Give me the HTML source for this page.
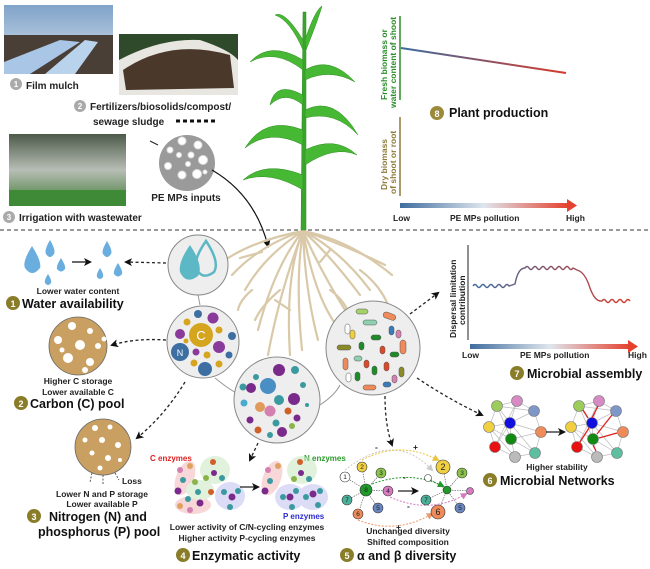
<!DOCTYPE html>
<html><head><meta charset="utf-8"><style>
html,body{margin:0;padding:0;background:#fff}
svg{display:block}
text{font-family:"Liberation Sans",Arial,sans-serif}
.h{font-weight:bold;font-size:12.5px;fill:#111}
.s{font-weight:bold;font-size:8.5px;fill:#222}
.m{font-weight:bold;font-size:10px;fill:#222}
.root{fill:none;stroke:#d9c9a8;stroke-width:2.2;stroke-linecap:round}
.dash{fill:none;stroke:#222;stroke-width:1.3;stroke-dasharray:3,2.5}
</style></head><body>
<svg width="650" height="569" viewBox="0 0 650 569" xmlns="http://www.w3.org/2000/svg">
<defs>
<linearGradient id="g1" x1="0" x2="1"><stop offset="0" stop-color="#3f6d9e"/><stop offset="0.5" stop-color="#dfe6ee"/><stop offset="1" stop-color="#e4412e"/></linearGradient>
<linearGradient id="g2" x1="0" x2="1"><stop offset="0" stop-color="#3c6ca2"/><stop offset="1" stop-color="#d83a2a"/></linearGradient>
<linearGradient id="sky" x1="0" y1="0" x2="0" y2="1"><stop offset="0" stop-color="#7fa3c9"/><stop offset="1" stop-color="#dfe7ee"/></linearGradient>
<linearGradient id="spr" x1="0" y1="0" x2="0" y2="1"><stop offset="0" stop-color="#4d5a4a"/><stop offset="0.5" stop-color="#b8beb6"/><stop offset="1" stop-color="#3e7a34"/></linearGradient>
<marker id="ah" markerWidth="8" markerHeight="8" refX="6" refY="4" orient="auto" markerUnits="userSpaceOnUse"><path d="M0,0 L8,4 L0,8 L2,4z" fill="#111"/></marker>
<marker id="ahy" markerWidth="7" markerHeight="7" refX="5" refY="3.5" orient="auto" markerUnits="userSpaceOnUse"><path d="M0,0 L7,3.5 L0,7z" fill="#e8c43a"/></marker>
<marker id="ahg" markerWidth="7" markerHeight="7" refX="5" refY="3.5" orient="auto" markerUnits="userSpaceOnUse"><path d="M0,0 L7,3.5 L0,7z" fill="#1f9a2a"/></marker>
<marker id="ahp" markerWidth="7" markerHeight="7" refX="5" refY="3.5" orient="auto" markerUnits="userSpaceOnUse"><path d="M0,0 L7,3.5 L0,7z" fill="#d47ac0"/></marker>
<marker id="aho" markerWidth="7" markerHeight="7" refX="5" refY="3.5" orient="auto" markerUnits="userSpaceOnUse"><path d="M0,0 L7,3.5 L0,7z" fill="#ee9a6a"/></marker>
<marker id="ahgr" markerWidth="7" markerHeight="7" refX="5" refY="3.5" orient="auto" markerUnits="userSpaceOnUse"><path d="M0,0 L7,3.5 L0,7z" fill="#ccc"/></marker>
</defs>

<!-- photos -->
<rect x="4" y="5" width="109" height="69" fill="url(#sky)"/>
<rect x="4" y="35" width="109" height="39" fill="#4a3f36"/>
<path d="M4,62 L60,40 L80,42 L30,74 L4,74Z" fill="#a9c6e6"/>
<path d="M45,74 L85,40 L98,42 L75,74Z" fill="#b9d3ec"/>
<rect x="119" y="34" width="119" height="61" fill="#2e4a2a"/>
<path d="M119,60 Q160,38 200,40 Q230,50 238,60 L238,95 L119,95Z" fill="#e8e6e0"/>
<path d="M123,70 Q170,38 230,55 L234,88 L126,90Z" fill="#4a382b"/>
<rect x="9" y="134" width="117" height="72" fill="url(#spr)"/>
<rect x="9" y="190" width="117" height="16" fill="#3f8a36"/>

<!-- top labels -->
<circle cx="16" cy="84" r="6" fill="#aaa"/><text x="16" y="87" font-size="8" fill="#fff" text-anchor="middle" font-weight="bold">1</text>
<text x="26" y="89" class="m" font-size="11">Film mulch</text>
<circle cx="80" cy="106" r="6" fill="#aaa"/><text x="80" y="109" font-size="8" fill="#fff" text-anchor="middle" font-weight="bold">2</text>
<text x="90" y="110" class="m" font-size="10.5">Fertilizers/biosolids/compost/</text>
<text x="93" y="125" class="m" font-size="10.5">sewage sludge</text>
<path d="M176,121 L218,121" stroke="#111" stroke-width="3" stroke-dasharray="4,3"/>
<circle cx="9" cy="217" r="6" fill="#aaa"/><text x="9" y="220" font-size="8" fill="#fff" text-anchor="middle" font-weight="bold">3</text>
<text x="19" y="221" class="m" font-size="10.5">Irrigation with wastewater</text>

<!-- PE MPs circle -->
<line x1="150" y1="141" x2="158" y2="145" stroke="#222" stroke-width="1"/>
<circle cx="187" cy="163" r="28" fill="#9a9a9a"/>
<g fill="#fff" stroke="#ddd" stroke-width="1">
<circle cx="182" cy="141" r="4"/><circle cx="198" cy="145" r="4"/><circle cx="170" cy="150" r="3"/><circle cx="179" cy="155" r="2.5"/><circle cx="191" cy="155" r="3"/><circle cx="203" cy="160" r="4.5"/><circle cx="168" cy="166" r="3.5"/><circle cx="188" cy="164" r="2.5"/><circle cx="182" cy="175" r="4"/><circle cx="197" cy="174" r="4.5"/><circle cx="205" cy="172" r="2"/></g>
<text x="186" y="201" class="m" font-size="10.5" text-anchor="middle">PE MPs inputs</text>
<path d="M212,170 Q255,195 268,246" fill="none" stroke="#111" stroke-width="1.2" marker-end="url(#ah)"/>

<line x1="0" y1="230" x2="650" y2="230" stroke="#333" stroke-width="1" stroke-dasharray="4,3"/>

<!-- roots -->
<g class="root">
<path d="M303,231 Q260,245 232,275"/><path d="M303,231 Q265,255 245,290"/><path d="M303,231 Q275,265 258,330"/>
<path d="M303,231 Q285,275 290,355"/><path d="M303,231 Q295,280 302,350"/><path d="M303,231 Q305,290 318,340"/>
<path d="M303,231 Q320,270 345,310"/><path d="M303,231 Q330,255 360,295"/><path d="M303,231 Q345,245 385,265"/>
<path d="M303,231 Q350,240 392,275"/><path d="M303,231 Q340,250 370,290"/><path d="M303,231 Q255,240 225,260"/>
<path d="M303,231 Q280,290 268,355"/><path d="M303,231 Q315,300 340,330"/>
<path d="M252,290 Q240,300 238,310"/><path d="M280,290 Q262,305 255,320"/><path d="M330,290 Q345,300 352,320"/><path d="M360,270 Q380,285 388,305"/>
<path d="M240,258 L262,252"/><path d="M275,300 L290,310"/><path d="M320,262 L330,250"/>
</g>
<!-- plant -->
<g fill="#47b833" stroke="#2f8d25" stroke-width="0.5">
<path d="M301,230 L303,12 L306,12 L306,230Z" fill="#3aa52c"/>
<path d="M303,60 Q270,40 250,62 Q275,48 303,70Z"/>
<path d="M303,95 Q275,80 270,105 Q285,90 303,105Z"/>
<path d="M303,130 Q265,115 245,148 Q270,128 303,145Z"/>
<path d="M303,175 Q265,160 243,180 Q270,170 303,190Z"/>
<path d="M305,70 Q330,55 355,82 Q330,68 305,80Z"/>
<path d="M305,110 Q335,95 358,135 Q335,110 305,118Z"/>
<path d="M305,150 Q335,135 357,155 Q335,145 305,165Z"/>
<path d="M303,40 Q285,10 275,15 Q290,20 303,50Z"/>
<path d="M305,40 Q315,10 322,6 Q318,20 306,50Z"/>
</g>

<!-- plant production chart -->
<line x1="400" y1="16" x2="400" y2="100" stroke="#2a8d2a" stroke-width="1.5"/>
<line x1="400" y1="117" x2="400" y2="196" stroke="#8e7b3a" stroke-width="1.5"/>
<text transform="translate(387,100) rotate(-90)" font-size="8.5" font-weight="bold" fill="#2a8d2a">Fresh biomass or</text>
<text transform="translate(396,108) rotate(-90)" font-size="8.5" font-weight="bold" fill="#2a8d2a">water content of shoot</text>
<text transform="translate(387,190) rotate(-90)" font-size="8.5" font-weight="bold" fill="#8e7b3a">Dry biomass</text>
<text transform="translate(396,194) rotate(-90)" font-size="8.5" font-weight="bold" fill="#8e7b3a">of shoot or root</text>
<line x1="401" y1="48" x2="566" y2="73" stroke="url(#g2)" stroke-width="2"/>
<line x1="401" y1="157" x2="566" y2="157" stroke="url(#g2)" stroke-width="2"/>
<circle cx="437" cy="113" r="7" fill="#9a8a3a"/><text x="437" y="117" font-size="9" fill="#fff" text-anchor="middle" font-weight="bold">8</text>
<text x="449" y="117" class="h" font-size="12">Plant production</text>
<rect x="400" y="203" width="168" height="5" fill="url(#g1)"/><path d="M567,199 L577,205.5 L567,212Z" fill="#e4412e"/>
<text x="393" y="221" class="s">Low</text><text x="450" y="221" class="s">PE MPs pollution</text><text x="566" y="221" class="s">High</text>

<!-- water availability -->
<g fill="#6aaee0">
<path d="M32,246 Q22,262 25,268 Q32,278 40,268 Q42,262 32,246Z"/>
<path d="M50,240 Q44,250 46,254 Q50,260 54,254 Q56,250 50,240Z"/>
<path d="M61,258 Q56,266 57,269 Q61,274 65,269 Q66,266 61,258Z"/>
<path d="M48,274 Q44,280 45,283 Q48,287 51,283 Q52,280 48,274Z"/>
<path d="M107,241 Q101,251 103,254 Q107,260 111,254 Q113,251 107,241Z"/>
<path d="M100,268 Q96,274 97,277 Q100,281 103,277 Q104,274 100,268Z"/>
<path d="M118,263 Q113,271 114,274 Q118,279 122,274 Q123,271 118,263Z"/>
</g>
<line x1="72" y1="262" x2="90" y2="262" stroke="#111" stroke-width="1.2" marker-end="url(#ah)"/>
<path class="dash" d="M166,263 L126,262" marker-end="url(#ah)"/>
<text x="78" y="294" class="s" text-anchor="middle">Lower water content</text>
<circle cx="13" cy="303" r="7" fill="#8a7d2a"/><text x="13" y="307" font-size="9" fill="#fff" text-anchor="middle" font-weight="bold">1</text>
<text x="22" y="308" class="h">Water availability</text>

<path d="M198,295 L200,305 M215,378 Q230,390 235,392 M320,405 Q335,395 340,385" fill="none" stroke="#999" stroke-width="1"/>
<circle cx="198" cy="265" r="30" fill="#eee" stroke="#888" stroke-width="1"/>
<path d="M190,245 Q178,262 180,272 Q186,285 198,276 Q204,266 190,245Z" fill="#5cb8c4"/>
<path d="M206,241 Q194,258 196,268 Q202,281 214,272 Q220,262 206,241Z" fill="none" stroke="#5cb8c4" stroke-width="2.5"/>

<circle cx="203" cy="342" r="36" fill="#eee" stroke="#888" stroke-width="1"/>
<circle cx="201" cy="335" r="12" fill="#d6a520"/><text x="201" y="340" font-size="13" fill="#fff" text-anchor="middle">C</text>
<circle cx="180" cy="352" r="9" fill="#3d6fa3"/><text x="180" y="356" font-size="9" fill="#fff" text-anchor="middle">N</text>
<circle cx="205" cy="369" r="7" fill="#3d6fa3"/><circle cx="198" cy="314" r="4" fill="#3d6fa3"/><circle cx="232" cy="336" r="4" fill="#3d6fa3"/><circle cx="229" cy="355" r="3.5" fill="#3d6fa3"/>
<circle cx="213" cy="318" r="5.5" fill="#8a3a9a"/><circle cx="180" cy="334" r="5" fill="#8a3a9a"/><circle cx="219" cy="347" r="6" fill="#8a3a9a"/><circle cx="196" cy="352" r="3.5" fill="#8a3a9a"/>
<g fill="#d6a520"><circle cx="187" cy="322" r="3.5"/><circle cx="219" cy="330" r="3.5"/><circle cx="207" cy="355" r="3.5"/><circle cx="194" cy="363" r="3.5"/><circle cx="219" cy="364" r="3.5"/><circle cx="186" cy="341" r="2.5"/></g>

<circle cx="277" cy="400" r="43" fill="#eee" stroke="#888" stroke-width="1"/>
<g>
<circle cx="268" cy="386" r="8" fill="#4a8fc4"/><circle cx="279" cy="370" r="6" fill="#7a2a8a"/><circle cx="295" cy="370" r="4" fill="#3a9aa0"/>
<circle cx="251" cy="388" r="5" fill="#7a2a8a"/><circle cx="243" cy="387" r="3.5" fill="#3a9aa0"/><circle cx="256" cy="377" r="3" fill="#3a9aa0"/>
<circle cx="279" cy="400" r="5" fill="#3a9aa0"/><circle cx="294" cy="399" r="6" fill="#7a2a8a"/><circle cx="260" cy="407" r="5" fill="#e09a5a"/>
<circle cx="270" cy="411" r="5.5" fill="#d480b0"/><circle cx="288" cy="411" r="3.5" fill="#d0602a"/><circle cx="297" cy="418" r="3.5" fill="#7a2a8a"/>
<circle cx="250" cy="420" r="3.5" fill="#7a2a8a"/><circle cx="258" cy="430" r="3.5" fill="#d0602a"/><circle cx="276" cy="423" r="3.5" fill="#3a9aa0"/>
<circle cx="282" cy="432" r="5" fill="#7a2a8a"/><circle cx="270" cy="435" r="3" fill="#3a9aa0"/><circle cx="292" cy="426" r="3" fill="#8ab44a"/>
<circle cx="244" cy="403" r="3.5" fill="#4aaad0"/><circle cx="307" cy="405" r="2" fill="#3a9aa0"/><circle cx="303" cy="385" r="3" fill="#3a9aa0"/></g>

<circle cx="373" cy="348" r="47" fill="#eee" stroke="#888" stroke-width="1"/>
<g stroke="#555" stroke-width="0.5">
<rect x="356" y="309" width="12" height="5" rx="2.5" fill="#a5d16a"/><rect x="383" y="313" width="13" height="6" rx="3" fill="#ef8a5a" transform="rotate(20 389 316)"/>
<rect x="363" y="320" width="14" height="5" rx="2.5" fill="#8fd0b0"/><rect x="345" y="324" width="5" height="10" rx="2.5" fill="#fff"/>
<rect x="350" y="330" width="5" height="9" rx="2.5" fill="#f0d040"/><rect x="389" y="326" width="5" height="9" rx="2.5" fill="#3a7ab8"/>
<rect x="396" y="330" width="5" height="8" rx="2.5" fill="#d480b0"/><rect x="400" y="340" width="6" height="14" rx="3" fill="#ef8a5a"/>
<rect x="337" y="345" width="14" height="5" rx="2.5" fill="#8a8a2a"/><rect x="359" y="342" width="5" height="8" rx="2.5" fill="#1f8a2a"/>
<rect x="371" y="335" width="10" height="5" rx="2.5" fill="#1f8a2a"/><rect x="380" y="346" width="5" height="8" rx="2.5" fill="#d84a2a"/>
<rect x="343" y="358" width="5" height="12" rx="2.5" fill="#ef8a5a"/><rect x="354" y="356" width="8" height="5" rx="2.5" fill="#8fd0b0"/>
<rect x="364" y="360" width="5" height="8" rx="2.5" fill="#d84a2a"/><rect x="390" y="352" width="9" height="5" rx="2.5" fill="#1f8a2a"/>
<rect x="372" y="366" width="5" height="9" rx="2.5" fill="#1f8a2a"/><rect x="384" y="362" width="5" height="9" rx="2.5" fill="#d84a2a"/>
<rect x="355" y="372" width="5" height="9" rx="2.5" fill="#1f8a2a"/><rect x="399" y="367" width="5" height="10" rx="2.5" fill="#8a8a2a"/>
<rect x="346" y="373" width="5" height="9" rx="2.5" fill="#fff"/><rect x="363" y="385" width="13" height="5" rx="2.5" fill="#ef8a5a"/>
<rect x="383" y="382" width="8" height="5" rx="2.5" fill="#3a7ab8"/><rect x="392" y="375" width="5" height="8" rx="2.5" fill="#d480b0"/></g>

<path class="dash" d="M166,340 Q135,338 112,345" marker-end="url(#ah)"/>
<path class="dash" d="M185,382 Q165,415 137,438" marker-end="url(#ah)"/>
<path class="dash" d="M258,443 L250,460" marker-end="url(#ah)"/>
<path class="dash" d="M410,314 L438,293" marker-end="url(#ah)"/>
<path class="dash" d="M417,378 Q450,400 482,415" marker-end="url(#ah)"/>
<path class="dash" d="M385,396 Q385,425 392,445" marker-end="url(#ah)"/>

<!-- carbon pool -->
<circle cx="78" cy="346" r="29" fill="#c9a062" stroke="#666" stroke-width="0.8"/>
<g fill="#fff"><circle cx="72" cy="326" r="4"/><circle cx="90" cy="331" r="3"/><circle cx="58" cy="340" r="4"/><circle cx="80" cy="345" r="5"/><circle cx="98" cy="346" r="3"/><circle cx="68" cy="358" r="5"/><circle cx="90" cy="362" r="4"/><circle cx="62" cy="350" r="2.5"/><circle cx="85" cy="370" r="3"/><circle cx="104" cy="339" r="2.5"/></g>
<text x="78" y="384" class="s" text-anchor="middle">Higher C storage</text>
<text x="78" y="395" class="s" text-anchor="middle">Lower available C</text>
<circle cx="21" cy="403" r="7" fill="#8a7d2a"/><text x="21" y="407" font-size="9" fill="#fff" text-anchor="middle" font-weight="bold">2</text>
<text x="30" y="408" class="h">Carbon (C) pool</text>

<!-- N P pool -->
<circle cx="103" cy="447" r="28" fill="#c9a062" stroke="#666" stroke-width="0.8"/>
<g fill="#fff"><circle cx="95" cy="428" r="3"/><circle cx="110" cy="427" r="2.5"/><circle cx="85" cy="440" r="2.5"/><circle cx="102" cy="440" r="3"/><circle cx="118" cy="445" r="3"/><circle cx="92" cy="453" r="2.5"/><circle cx="108" cy="458" r="3"/><circle cx="100" cy="468" r="2.5"/><circle cx="120" cy="460" r="2"/></g>
<path d="M92,473 L90,482 M103,475 L103,484 M115,473 L119,480" stroke="#333" stroke-width="0.8" stroke-dasharray="2,1.5"/>
<text x="122" y="484" class="s">Loss</text>
<text x="102" y="497" class="s" text-anchor="middle">Lower N and P storage</text>
<text x="102" y="507" class="s" text-anchor="middle">Lower available P</text>
<circle cx="34" cy="516" r="7" fill="#8a7d2a"/><text x="34" y="520" font-size="9" fill="#fff" text-anchor="middle" font-weight="bold">3</text>
<text x="49" y="521" class="h">Nitrogen (N) and</text>
<text x="38" y="536" class="h">phosphorus (P) pool</text>

<!-- enzymes -->
<text x="150" y="461" font-size="8" font-weight="bold" fill="#e02020">C enzymes</text>
<text x="304" y="461" font-size="8" font-weight="bold" fill="#2a9a2a">N enzymes</text>
<text x="283" y="519" font-size="8" font-weight="bold" fill="#2a2ad0">P enzymes</text>
<g opacity="0.55">
<ellipse cx="185" cy="478" rx="9" ry="18" fill="#f2b8b8" transform="rotate(20 185 478)"/>
<ellipse cx="215" cy="470" rx="15" ry="14" fill="#c8e6c0"/>
<ellipse cx="230" cy="496" rx="15" ry="14" fill="#c0c0f0"/>
<ellipse cx="193" cy="505" rx="18" ry="9" fill="#f2b8b8"/>
<ellipse cx="200" cy="490" rx="14" ry="10" fill="#c8e6c0"/>
<ellipse cx="272" cy="478" rx="9" ry="18" fill="#f2b8b8" transform="rotate(20 272 478)"/>
<ellipse cx="302" cy="470" rx="15" ry="14" fill="#c8e6c0"/>
<ellipse cx="290" cy="497" rx="15" ry="13" fill="#c0c0f0"/>
<ellipse cx="313" cy="497" rx="15" ry="13" fill="#c0c0f0"/>
</g>
<g>
<circle cx="180" cy="470" r="3" fill="#d480b0"/><circle cx="190" cy="466" r="3" fill="#e0a060"/><circle cx="183" cy="480" r="3" fill="#3a9aa0"/><circle cx="178" cy="491" r="3.5" fill="#7a2a8a"/>
<circle cx="213" cy="462" r="3" fill="#d0602a"/><circle cx="214" cy="473" r="3" fill="#7a2a8a"/><circle cx="206" cy="478" r="3" fill="#8ab44a"/><circle cx="222" cy="478" r="3" fill="#3a9aa0"/>
<circle cx="195" cy="482" r="3" fill="#8ab44a"/><circle cx="198" cy="492" r="3" fill="#3a9aa0"/><circle cx="200" cy="503" r="3.5" fill="#7a2a8a"/><circle cx="211" cy="492" r="3" fill="#d0602a"/>
<circle cx="180" cy="506" r="3" fill="#e0a060"/><circle cx="190" cy="510" r="3" fill="#d480b0"/><circle cx="188" cy="499" r="3" fill="#3a9aa0"/>
<circle cx="224" cy="492" r="3" fill="#3a9aa0"/><circle cx="232" cy="497" r="3.5" fill="#7a2a8a"/><circle cx="238" cy="491" r="3" fill="#3a9aa0"/><circle cx="230" cy="507" r="3" fill="#3a9aa0"/>
<circle cx="268" cy="470" r="3" fill="#d480b0"/><circle cx="278" cy="466" r="3" fill="#e0a060"/><circle cx="270" cy="481" r="3" fill="#3a9aa0"/><circle cx="265" cy="491" r="3.5" fill="#7a2a8a"/>
<circle cx="300" cy="462" r="3" fill="#d0602a"/><circle cx="301" cy="473" r="3" fill="#7a2a8a"/><circle cx="294" cy="479" r="3" fill="#8ab44a"/><circle cx="309" cy="479" r="3" fill="#3a9aa0"/>
<circle cx="283" cy="497" r="3" fill="#3a9aa0"/><circle cx="290" cy="497" r="3.5" fill="#7a2a8a"/><circle cx="296" cy="491" r="3" fill="#3a9aa0"/><circle cx="292" cy="507" r="3" fill="#3a9aa0"/>
<circle cx="306" cy="497" r="3" fill="#3a9aa0"/><circle cx="313" cy="494" r="3.5" fill="#7a2a8a"/><circle cx="320" cy="491" r="3" fill="#3a9aa0"/><circle cx="318" cy="505" r="3" fill="#3a9aa0"/></g>
<line x1="240" y1="487" x2="258" y2="487" stroke="#222" stroke-width="1.2" marker-end="url(#ah)"/>
<text x="247" y="530" class="s" text-anchor="middle">Lower activity of C/N-cycling enzymes</text>
<text x="247" y="541" class="s" text-anchor="middle">Higher activity P-cycling enzymes</text>
<circle cx="183" cy="555" r="7" fill="#8a7d2a"/><text x="183" y="559" font-size="9" fill="#fff" text-anchor="middle" font-weight="bold">4</text>
<text x="192" y="560" class="h">Enzymatic activity</text>

<!-- diversity -->
<g stroke="#555" stroke-width="0.6" stroke-dasharray="1.5,1" fill="none">
<path d="M366,490 L345,477 M366,490 L362,467 M366,490 L381,473 M366,490 L388,491 M366,490 L378,508 M366,490 L358,514 M366,490 L347,500"/>
<path d="M447,490 L443,467 M447,490 L462,473 M447,490 L428,478 M447,490 L470,491 M447,490 L460,508 M447,490 L438,512 M447,490 L426,500"/></g>
<path d="M345,470 Q395,430 432,470" fill="none" stroke="#ccc" stroke-width="1" stroke-dasharray="2,1.5" marker-end="url(#ahgr)"/>
<path d="M362,460 Q400,440 438,460" fill="none" stroke="#e8c43a" stroke-width="1" stroke-dasharray="2,1.5" marker-end="url(#ahy)"/>
<path d="M372,484 Q410,470 443,486" fill="none" stroke="#1f9a2a" stroke-width="1" stroke-dasharray="2,1.5" marker-end="url(#ahg)"/>
<path d="M390,497 Q430,515 466,494" fill="none" stroke="#d47ac0" stroke-width="1" stroke-dasharray="2,1.5" marker-end="url(#ahp)"/>
<path d="M358,520 Q395,535 432,514" fill="none" stroke="#ee9a6a" stroke-width="1" stroke-dasharray="2,1.5" marker-end="url(#aho)"/>
<text x="375" y="450" class="s">-</text><text x="413" y="450" class="s">+</text><text x="403" y="480" class="s">-</text><text x="407" y="509" class="s">-</text><text x="396" y="530" class="s">+</text>
<g stroke="#333" stroke-width="0.6">
<circle cx="366" cy="490" r="6" fill="#1f9a2a"/><circle cx="345" cy="477" r="5" fill="#fff"/><circle cx="362" cy="467" r="5" fill="#f0d040"/><circle cx="381" cy="473" r="5" fill="#8ac44a"/><circle cx="388" cy="491" r="5" fill="#d77ac0"/><circle cx="378" cy="508" r="5" fill="#6a86c0"/><circle cx="358" cy="514" r="5" fill="#ef8a5a"/><circle cx="347" cy="500" r="5" fill="#4ab09a"/>
<circle cx="447" cy="490" r="4" fill="#1f9a2a"/><circle cx="443" cy="467" r="7" fill="#f0d040"/><circle cx="462" cy="473" r="5" fill="#8ac44a"/><circle cx="428" cy="478" r="3.5" fill="#fff"/><circle cx="470" cy="491" r="3.5" fill="#d77ac0"/><circle cx="460" cy="508" r="5" fill="#6a86c0"/><circle cx="438" cy="512" r="7" fill="#ef8a5a"/><circle cx="426" cy="500" r="5" fill="#4ab09a"/></g>
<g font-size="6.5" text-anchor="middle" fill="#222">
<text x="366" y="492">8</text><text x="345" y="479">1</text><text x="362" y="469">2</text><text x="381" y="475">3</text><text x="388" y="493">4</text><text x="378" y="510">5</text><text x="358" y="516">6</text><text x="347" y="502">7</text>
<text x="443" y="470" font-size="9">2</text><text x="462" y="475">3</text><text x="460" y="510">5</text><text x="438" y="515" font-size="9">6</text><text x="426" y="502">7</text></g>
<line x1="398" y1="491" x2="417" y2="491" stroke="#222" stroke-width="1.2" marker-end="url(#ah)"/>
<text x="408" y="534" class="s" text-anchor="middle">Unchanged diversity</text>
<text x="408" y="545" class="s" text-anchor="middle">Shifted composition</text>
<circle cx="347" cy="555" r="7" fill="#8a7d2a"/><text x="347" y="559" font-size="9" fill="#fff" text-anchor="middle" font-weight="bold">5</text>
<text x="357" y="560" class="h">α and β diversity</text>

<!-- networks -->
<g id="net">
<g stroke="#bbb" stroke-width="0.7" fill="none">
<path d="M497,406 L517,401 L534,411 L541,432 L535,453 L515,457 L495,447 L489,427 Z M497,406 L510,423 L517,401 M534,411 L510,423 L541,432 M489,427 L510,423 M495,447 L510,423 L511,439 L535,453 M515,457 L511,439 L541,432 M489,427 L511,439 L497,406 L534,411 M495,447 L517,401 M515,457 L489,427 M535,453 L510,423"/></g>
<circle cx="497" cy="406" r="5.5" fill="#9ccc5a" stroke="#777" stroke-width="0.6"/><circle cx="517" cy="401" r="5.5" fill="#d88ac4" stroke="#777" stroke-width="0.6"/>
<circle cx="534" cy="411" r="5.5" fill="#7f96c8" stroke="#777" stroke-width="0.6"/><circle cx="541" cy="432" r="5.5" fill="#ef8a5a" stroke="#777" stroke-width="0.6"/>
<circle cx="535" cy="453" r="5.5" fill="#5cc0a0" stroke="#777" stroke-width="0.6"/><circle cx="515" cy="457" r="5.5" fill="#bbb" stroke="#777" stroke-width="0.6"/>
<circle cx="495" cy="447" r="5.5" fill="#e81010" stroke="#777" stroke-width="0.6"/><circle cx="489" cy="427" r="5.5" fill="#f0d040" stroke="#777" stroke-width="0.6"/>
<circle cx="510" cy="423" r="5.5" fill="#1010e0" stroke="#777" stroke-width="0.6"/><circle cx="511" cy="439" r="5.5" fill="#108a10" stroke="#777" stroke-width="0.6"/>
</g>
<g transform="translate(82,0)">
<use href="#net"/>
<g stroke="#dd2222" stroke-width="1.3" fill="none"><path d="M510,418 L516,406 M507,428 L498,442 M511,445 L514,451 M517,438 L535,433 M530,415 L515,434 M501,410 L506,418"/></g>
</g>
<line x1="546" y1="432" x2="564" y2="432" stroke="#222" stroke-width="1.2" marker-end="url(#ah)"/>
<text x="557" y="470" class="s" text-anchor="middle">Higher stability</text>
<circle cx="490" cy="480" r="7" fill="#8a7d2a"/><text x="490" y="484" font-size="9" fill="#fff" text-anchor="middle" font-weight="bold">6</text>
<text x="500" y="485" class="h">Microbial Networks</text>

<!-- microbial assembly chart -->
<line x1="468" y1="245" x2="468" y2="340" stroke="#222" stroke-width="1"/>
<text transform="translate(456,338) rotate(-90)" font-size="8.5" font-weight="bold" fill="#222">Dispersal limitation</text>
<text transform="translate(465,325) rotate(-90)" font-size="8.5" font-weight="bold" fill="#222">contribution</text>
<path d="M473,286 q2,-3 4,0 q2,3 4,0 q2,-3 4,0 q2,3 4,0 q2,-3 4,0 q2,3 4,0 q2,-3 4,0 q2,3 4,0 q2,-3 4,0 L515,284 Q518,268 525,268 q2,-3 4,0 q2,3 4,0 q2,-3 4,0 q2,3 4,0 q2,-3 4,0 q2,3 4,0 q2,-3 4,0 q2,3 4,0 q2,-3 4,0 q2,3 4,0 q2,-3 4,0 q2,3 4,0 L577,270 Q585,272 590,288 Q595,302 602,301 q2,-3 4,0 q2,3 4,0 q2,-3 4,0 q2,3 4,0 q2,-3 4,0 q2,3 4,0 q2,-3 4,0" fill="none" stroke="url(#g2)" stroke-width="1.4"/>
<rect x="470" y="344" width="160" height="5" fill="url(#g1)"/><path d="M628,340 L638,346.5 L628,353Z" fill="#e4412e"/>
<text x="462" y="358" class="s">Low</text><text x="520" y="358" class="s">PE MPs pollution</text><text x="628" y="358" class="s">High</text>
<circle cx="517" cy="373" r="7" fill="#8a7d2a"/><text x="517" y="377" font-size="9" fill="#fff" text-anchor="middle" font-weight="bold">7</text>
<text x="527" y="378" class="h">Microbial assembly</text>
</svg>
</body></html>
